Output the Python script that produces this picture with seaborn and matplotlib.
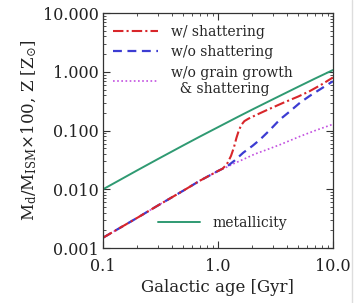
import numpy as np
import pandas as pd
import matplotlib
matplotlib.use("Agg")
import matplotlib.pyplot as plt
from matplotlib.lines import Line2D
from matplotlib.ticker import FixedLocator, FixedFormatter, LogLocator, NullFormatter
import seaborn as sns

# --- data ---
age_common = [0.1, 0.2, 0.3, 0.5, 0.7, 1.0, 1.1]
dust_common = [0.0015, 0.0033, 0.0053, 0.0095, 0.0141, 0.0205, 0.0225]

age_shat = [1.2, 1.3, 1.38, 1.45, 1.52, 1.6, 1.7, 1.85, 2.2, 2.7, 3.7, 5.0, 6.3, 8.0, 10.0]
dust_shat = [0.027, 0.037, 0.052, 0.075, 0.100, 0.125, 0.145, 0.160, 0.188, 0.226, 0.297, 0.38, 0.47, 0.61, 0.80]

age_noshat = [1.2, 1.4, 1.66, 2.0, 2.32, 2.8, 3.46, 4.2, 5.2, 6.3, 7.7, 10.0]
dust_noshat = [0.0245, 0.031, 0.042, 0.055, 0.070, 0.10, 0.154, 0.21, 0.30, 0.39, 0.50, 0.69]

age_nogrow = [1.2, 1.35, 1.7, 2.1, 2.64, 3.5, 5.2, 7.0, 10.0]
dust_nogrow = [0.024, 0.027, 0.033, 0.040, 0.047, 0.058, 0.080, 0.100, 0.128]

age_z = [0.1, 0.2, 0.3, 0.5, 0.7, 1.0, 1.5, 2.0, 3.0, 5.0, 7.0, 10.0]
metal_z = [0.0100, 0.0212, 0.0327, 0.056, 0.0794, 0.114, 0.172, 0.229, 0.340, 0.557, 0.768, 1.07]

labels = ["w/ shattering", "w/o shattering", "w/o grain growth\n  & shattering"]

sns.set_theme(style="ticks")
plt.rcParams['font.family'] = ['DejaVu Serif']
plt.rcParams['mathtext.fontset'] = 'dejavuserif'

fig = plt.figure(figsize=(3.56, 3.03), dpi=100)
ax = fig.add_axes([0.289, 0.181, 0.646, 0.776])

df_shat = pd.DataFrame({"age": age_common + age_shat, "val": dust_common + dust_shat})
df_noshat = pd.DataFrame({"age": age_common + age_noshat, "val": dust_common + dust_noshat})
df_nogrow = pd.DataFrame({"age": age_common + age_nogrow, "val": dust_common + dust_nogrow})
df_z = pd.DataFrame({"age": age_z, "val": metal_z})

c_red = "#d8262a"
c_blue = "#3c3cd2"
c_pur = "#c24fe0"
c_grn = "#2f9a72"

ls_red = (0, (5, 1.5, 1, 1.5))
ls_blue = (0, (4, 2.5))
ls_pur = (0, (1, 1.5))

sns.lineplot(data=df_z, x="age", y="val", ax=ax, color=c_grn, lw=1.4)
sns.lineplot(data=df_nogrow, x="age", y="val", ax=ax, color=c_pur, lw=1.2, linestyle=ls_pur)
sns.lineplot(data=df_noshat, x="age", y="val", ax=ax, color=c_blue, lw=1.6, linestyle=ls_blue)
sns.lineplot(data=df_shat, x="age", y="val", ax=ax, color=c_red, lw=1.5, linestyle=ls_red)

ax.set_xscale("log")
ax.set_yscale("log")
ax.set_xlim(0.1, 10)
ax.set_ylim(0.001, 10)

ax.xaxis.set_major_locator(FixedLocator([0.1, 1.0, 10.0]))
ax.xaxis.set_major_formatter(FixedFormatter(["0.1", "1.0", "10.0"]))
ax.yaxis.set_major_locator(FixedLocator([0.001, 0.01, 0.1, 1.0, 10.0]))
ax.yaxis.set_major_formatter(FixedFormatter(["0.001", "0.010", "0.100", "1.000", "10.000"]))
ax.xaxis.set_minor_locator(LogLocator(base=10, subs=np.arange(2, 10)))
ax.yaxis.set_minor_locator(LogLocator(base=10, subs=np.arange(2, 10)))
ax.xaxis.set_minor_formatter(NullFormatter())
ax.yaxis.set_minor_formatter(NullFormatter())
ax.tick_params(which="both", direction="in", top=True, right=True, colors="#333333",
               labelcolor="#222222", labelsize=11.5)
ax.tick_params(which="major", length=5, width=0.8)
ax.tick_params(which="minor", length=2.5, width=0.6)
ax.tick_params(axis="x", pad=7)
ax.tick_params(axis="y", pad=3)
for sp in ax.spines.values():
    sp.set_color("#333333")
    sp.set_linewidth(0.9)

ax.set_xlabel("Galactic age [Gyr]", fontsize=12, color="#222222", labelpad=3)
ax.set_ylabel(r"M$_{\rm d}$/M$_{\rm ISM}$$\times$100, Z [Z$_{\odot}$]", fontsize=12,
              color="#222222", labelpad=3)

h_dust = [Line2D([], [], color=c_red, lw=1.5, linestyle=ls_red),
          Line2D([], [], color=c_blue, lw=1.6, linestyle=ls_blue),
          Line2D([], [], color=c_pur, lw=1.2, linestyle=ls_pur)]
leg1 = ax.legend(h_dust, labels, loc="upper left", frameon=False, fontsize=10,
                 handlelength=3.3, handletextpad=0.9, labelspacing=0.45,
                 borderaxespad=0.3, bbox_to_anchor=(0.0, 0.99))
ax.add_artist(leg1)
ax.legend([Line2D([], [], color=c_grn, lw=1.4)], ["metallicity"], loc="center left",
          frameon=False, fontsize=10, handlelength=3.0, handletextpad=0.95,
          borderpad=0, borderaxespad=0, bbox_to_anchor=(0.239, 0.108))

fig.add_artist(Line2D([0.99, 0.99], [0.0, 1.0], color="#dddddd", lw=1.0,
                      transform=fig.transFigure))

fig.savefig("out.png", dpi=100)
